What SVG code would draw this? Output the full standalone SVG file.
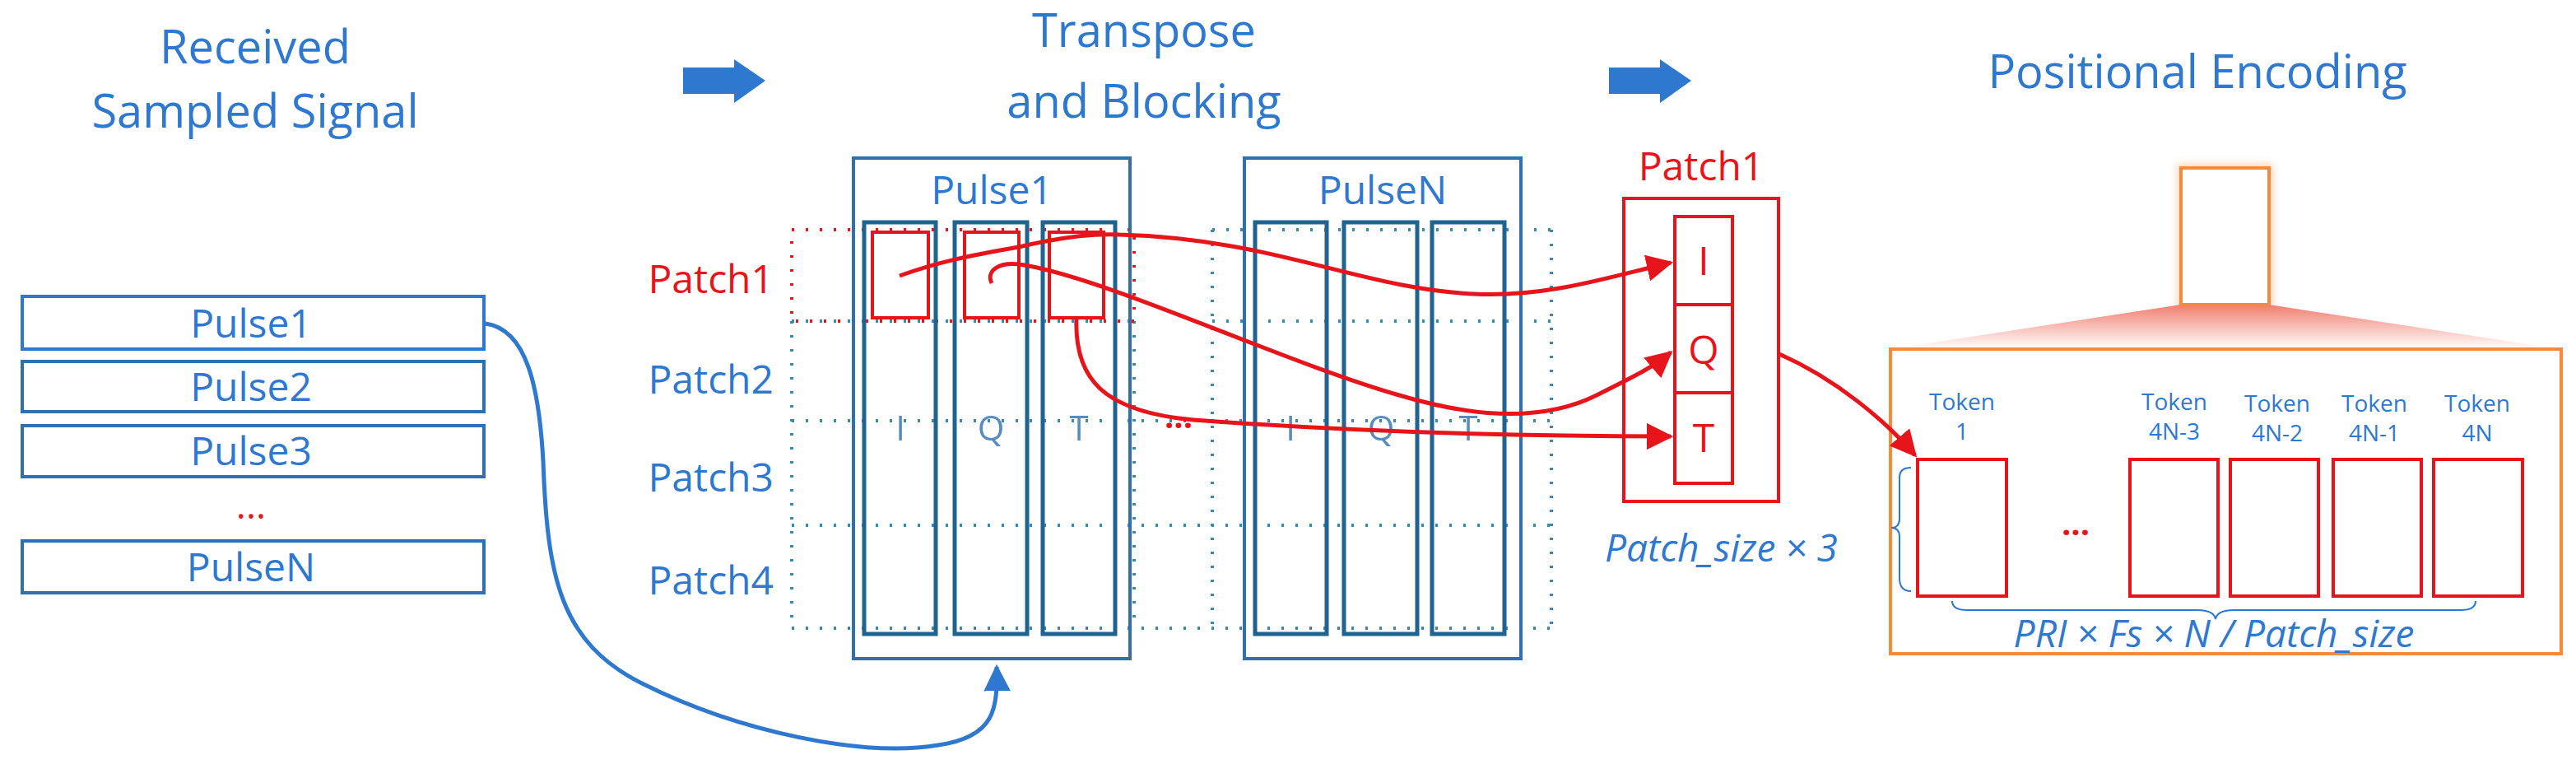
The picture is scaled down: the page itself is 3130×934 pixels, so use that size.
<svg xmlns="http://www.w3.org/2000/svg" width="3130" height="934" viewBox="0 0 3130 934">
<defs>
<style>
text{font-family:"Open Sans","Liberation Sans",sans-serif}
.t{fill:#2F78D0;font-size:56px;text-anchor:middle}
.pl{fill:#2F78D0;font-size:48px;text-anchor:middle}
.pt{fill:#2F78D0;font-size:48px;text-anchor:end}
.box{fill:#fff;stroke:#2E70B0;stroke-width:4}
.col{fill:none;stroke:#1F6391;stroke-width:5}
.dot{fill:none;stroke:#3A8AB0;stroke-width:4;stroke-dasharray:3 14}
.rd{fill:none;stroke:#E8141B;stroke-width:4}
.rdot{fill:none;stroke:#E8141B;stroke-width:4;stroke-dasharray:3 14}
.rl{fill:none;stroke:#E8141B;stroke-width:5}
.iq{fill:#2E70B0;font-size:42px;text-anchor:middle;opacity:.8}
.tk{fill:#2F78D0;font-size:28px;text-anchor:middle}
.it{fill:#2F78D0;font-size:46px;font-style:italic}
</style>
<marker id="ra" viewBox="0 0 10 10" refX="9" refY="5" markerWidth="6.5" markerHeight="6.5" orient="auto" markerUnits="strokeWidth"><path d="M0,0L10,5L0,10z" fill="#E8141B"/></marker>
<marker id="ba" viewBox="0 0 10 10" refX="9" refY="5" markerWidth="6.5" markerHeight="6.5" orient="auto" markerUnits="strokeWidth"><path d="M0,0L10,5L0,10z" fill="#2F78D0"/></marker>
<linearGradient id="fan" x1="0" y1="0" x2="0" y2="1"><stop offset="0" stop-color="#F07060" stop-opacity=".9"/><stop offset="1" stop-color="#F07060" stop-opacity="0"/></linearGradient>
<filter id="glow" x="-30%" y="-30%" width="160%" height="160%"><feGaussianBlur stdDeviation="5"/></filter>
</defs>

<g id="titles">
<text class="t" x="310" y="77">Received</text>
<text class="t" x="310" y="155">Sampled Signal</text>
<text class="t" x="1390" y="57">Transpose</text>
<text class="t" x="1390" y="143">and Blocking</text>
<text class="t" x="2670" y="107">Positional Encoding</text>
<path d="M830,82H892V72L930,98L892,125V114H830z" fill="#2F78D0"/>
<path d="M1955,82H2017V72L2055,98L2017,125V114H1955z" fill="#2F78D0"/>
</g>

<g id="pulses">
<rect class="box" x="27" y="360" width="561" height="64" style="stroke:#2F78D0"/><text class="pl" x="305" y="410">Pulse1</text>
<rect class="box" x="27" y="439" width="561" height="61"/><text class="pl" x="305" y="487">Pulse2</text>
<rect class="box" x="27" y="517" width="561" height="62"/><text class="pl" x="305" y="565">Pulse3</text>
<text x="305" y="630" fill="#E8141B" font-size="46" text-anchor="middle" font-family="Liberation Sans">...</text>
<rect class="box" x="27" y="657" width="561" height="63"/><text class="pl" x="305" y="706">PulseN</text>
</g>

<g id="grid">
<path class="dot" d="M962,390V763M1378,390V763M1473,279V763M1885,279V763M962,390H1378M962,511H1885M962,638H1885M962,763H1885M1473,279H1885M1473,390H1885"/>
<rect class="rdot" x="962" y="279" width="416" height="111"/>
<text class="pt" x="940" y="356" style="fill:#E8141B">Patch1</text>
<text class="pt" x="940" y="478">Patch2</text>
<text class="pt" x="940" y="597">Patch3</text>
<text class="pt" x="940" y="722">Patch4</text>
<text x="1432" y="520" fill="#E8141B" font-size="40" text-anchor="middle" font-family="Liberation Sans" font-weight="bold">...</text>
</g>

<g id="pulse1block">
<rect x="1037" y="192" width="336" height="608" fill="none" stroke="#2E70B0" stroke-width="4"/>
<text class="pl" x="1205" y="248">Pulse1</text>
<rect class="col" x="1050" y="270" width="87" height="500"/>
<rect class="col" x="1160" y="270" width="88" height="500"/>
<rect class="col" x="1267" y="270" width="88" height="500"/>
<text class="iq" x="1094" y="535">I</text><text class="iq" x="1204" y="535">Q</text><text class="iq" x="1311" y="535">T</text>
<rect class="rd" x="1060" y="282" width="68" height="104"/>
<rect class="rd" x="1172" y="282" width="66" height="104"/>
<rect class="rd" x="1275" y="282" width="66" height="104"/>
</g>

<g id="pulseNblock">
<rect x="1512" y="192" width="336" height="608" fill="none" stroke="#2E70B0" stroke-width="4"/>
<text class="pl" x="1680" y="248">PulseN</text>
<rect class="col" x="1525" y="270" width="87" height="500"/>
<rect class="col" x="1633" y="270" width="89" height="500"/>
<rect class="col" x="1740" y="270" width="88" height="500"/>
<text class="iq" x="1568" y="535">I</text><text class="iq" x="1678" y="535">Q</text><text class="iq" x="1784" y="535">T</text>
</g>

<g id="patch1">
<text x="2067" y="219" fill="#E8141B" font-size="48" text-anchor="middle">Patch1</text>
<rect class="rd" x="1973" y="241" width="188" height="368"/>
<rect class="rd" x="2035" y="263" width="70" height="107"/>
<rect class="rd" x="2035" y="370" width="70" height="107"/>
<rect class="rd" x="2035" y="477" width="70" height="110"/>
<text x="2070" y="334" fill="#E8141B" font-size="48" text-anchor="middle">I</text>
<text x="2070" y="442" fill="#E8141B" font-size="48" text-anchor="middle">Q</text>
<text x="2070" y="549" fill="#E8141B" font-size="48" text-anchor="middle">T</text>
<text class="it" x="1950" y="682">Patch_size × 3</text>
</g>

<g id="encoding">
<polygon points="2650,370 2757,370 3110,424 2297,424" fill="url(#fan)"/>
<rect x="2650" y="204" width="107" height="166" fill="none" stroke="#F58A3A" stroke-width="10" opacity=".35" filter="url(#glow)"/>
<rect x="2650" y="204" width="107" height="166" fill="#fff" stroke="#F58A3A" stroke-width="4"/>
<rect x="2297" y="424" width="815" height="370" fill="none" stroke="#F58A3A" stroke-width="4"/>
<rect class="rd" x="2330" y="558" width="108" height="166"/>
<rect class="rd" x="2588" y="558" width="107" height="166"/>
<rect class="rd" x="2710" y="558" width="107" height="166"/>
<rect class="rd" x="2835" y="558" width="107" height="166"/>
<rect class="rd" x="2957" y="558" width="108" height="166"/>
<text class="tk" x="2384" y="498">Token</text><text class="tk" x="2384" y="534">1</text>
<text class="tk" x="2642" y="498">Token</text><text class="tk" x="2642" y="534">4N-3</text>
<text class="tk" x="2767" y="500">Token</text><text class="tk" x="2767" y="536">4N-2</text>
<text class="tk" x="2885" y="500">Token</text><text class="tk" x="2885" y="536">4N-1</text>
<text class="tk" x="3010" y="500">Token</text><text class="tk" x="3010" y="536">4N</text>
<text x="2522" y="650" fill="#E8141B" font-size="40" text-anchor="middle" font-family="Liberation Sans" font-weight="bold">...</text>
<path d="M2322,568Q2308,568 2308,580V630Q2308,641 2298,641Q2308,641 2308,652V702Q2308,718 2322,718" fill="none" stroke="#2F78D0" stroke-width="2"/>
<path d="M2372,730Q2372,741 2390,741H2670Q2690,741 2692,752Q2694,741 2714,741H2990Q3008,741 3008,730" fill="none" stroke="#2F78D0" stroke-width="2"/>
<text class="it" x="2690" y="786" text-anchor="middle">PRI × Fs × N / Patch_size</text>
</g>

<g id="connectors">
<path d="M590,393C640,400 655,470 660,560C665,700 680,780 780,830C900,890 1050,920 1140,905C1210,895 1212,860 1211,810" fill="none" stroke="#2F78D0" stroke-width="5" marker-end="url(#ba)"/>
<path class="rl" d="M1093,335C1140,318 1180,310 1238,300C1280,290 1320,283 1360,285C1550,290 1650,350 1790,357C1880,362 1960,335 2030,319" marker-end="url(#ra)"/>
<path class="rl" d="M1205,344C1198,330 1212,316 1245,322C1350,340 1560,440 1700,480C1800,510 1880,510 1940,480C1990,455 2010,445 2030,428" marker-end="url(#ra)"/>
<path class="rl" d="M1308,386C1305,460 1340,500 1450,510C1650,525 1850,530 2030,530" marker-end="url(#ra)"/>
<path class="rl" d="M2162,430C2230,460 2290,510 2327,553" marker-end="url(#ra)"/>
</g>
</svg>
